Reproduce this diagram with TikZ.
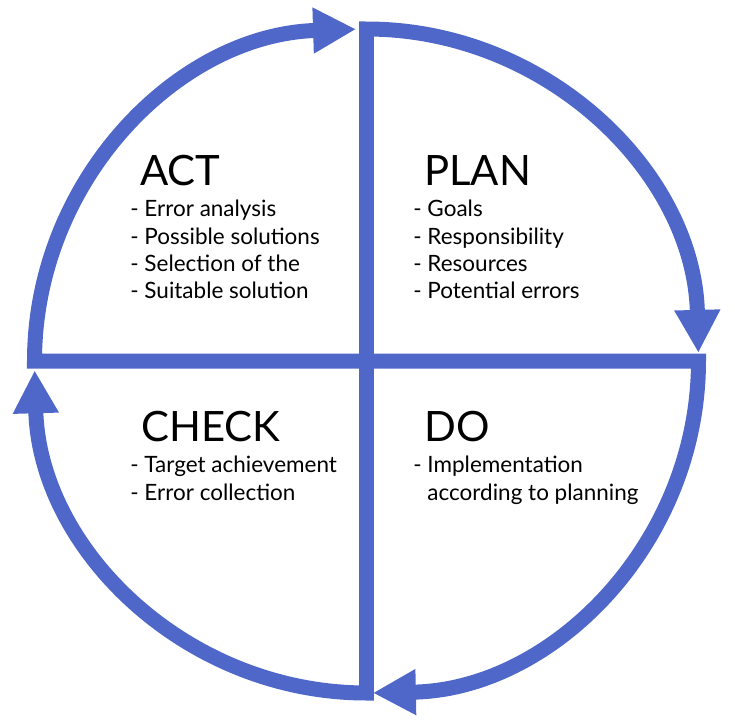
\documentclass[tikz,border=0pt]{standalone}
\usepackage{fontspec}
\setmainfont{Lato}
\definecolor{pdcablue}{RGB}{79,103,201}
\usetikzlibrary{arrows.meta}

\tikzset{
  ring/.style={draw=pdcablue, line width=0.3cm, line join=miter,
    -{Triangle[length=0.86cm,width=0.86cm]}},
  phase/.style={anchor=base west, inner sep=0pt, font=\fontsize{23.8}{28}\selectfont},
  tasks/.style={anchor=north west, inner sep=0pt, align=left,
    font=\fontsize{12.8}{15.5}\selectfont},
}

\begin{document}
\begin{tikzpicture}[x=0.02cm, y=0.02cm]
  \useasboundingbox (0,0) rectangle (735,-721);
  \coordinate (c) at (366.5,-361);
  % one quarter of the cycle per phase
  \draw[ring] (c) -- ++(0,332) arc[start angle=90, end angle=1.4, radius=332];
  \draw[ring] (c) -- ++(332,0) arc[start angle=0, end angle=-88.9, radius=332];
  \draw[ring] (c) -- ++(0,-332) arc[start angle=-90, end angle=-178.4, radius=332];
  \draw[ring] (c) -- ++(-332,0) arc[start angle=180, end angle=91.8, radius=332];

  % labels
  \node[phase] (act) at (140,-185) {ACT};
  \node[tasks] (acttasks) at (130,-200) {- Error analysis\\- Possible solutions\\- Selection of the\\- Suitable solution};
  \node[phase] (plan) at (424,-185) {PLAN};
  \node[tasks] (plantasks) at (413,-200) {- Goals\\- Responsibility\\- Resources\\- Potential errors};
  \node[phase] (check) at (141,-441) {CHECK};
  \node[tasks] (checktasks) at (130,-456) {- Target achievement\\- Error collection};
  \node[phase] (do) at (424,-441) {DO};
  \node[tasks] (dotasks) at (413,-456) {- Implementation\\\phantom{- }according to planning};
\end{tikzpicture}
\end{document}
